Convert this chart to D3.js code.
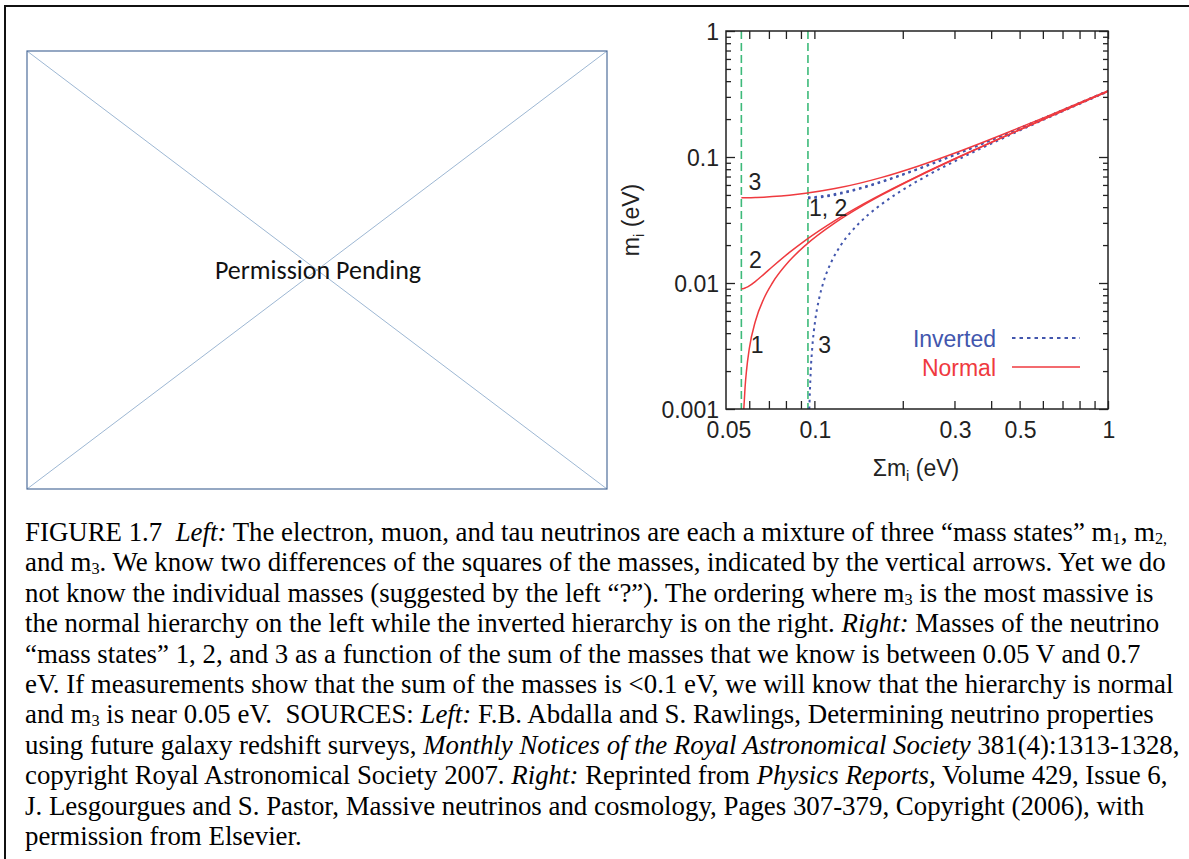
<!DOCTYPE html>
<html>
<head>
<meta charset="utf-8">
<script src="https://cdn.jsdelivr.net/npm/d3@7"></script>
<style>
  html, body { margin: 0; padding: 0; background: #fff; }
  svg { display: block; }
  text { white-space: pre; }
</style>
</head>
<body>
<svg id="fig" width="1189" height="859"></svg>
<script>
// ---------------- data ----------------
// Normal hierarchy: sum of masses and the three mass states (eV)
const sumNormal = [0.0564, 0.0575, 0.05808, 0.0587, 0.0600, 0.0630, 0.06724, 0.07193, 0.08224, 0.09341, 0.11745, 0.14305, 0.16972, 0.22513, 0.31108, 0.45759, 0.60575, 0.90386, 1.00248];
const m1Normal  = [null,   0.001,  0.0015,  0.002,  0.003,  0.005,  0.0075,  0.010,   0.015,   0.020,   0.030,   0.040,   0.050,   0.070,   0.100,   0.150,   0.200,   0.300,   0.333];
const m2Normal  = [0.0090, 0.009055, 0.009124, 0.00922, 0.009487, 0.0103, 0.011715, 0.013454, 0.017493, 0.021932, 0.031321, 0.0410, 0.050804, 0.070576, 0.100404, 0.15027, 0.200202, 0.300135, 0.33312];
const m3Normal  = [0.04743, 0.04744, 0.047458, 0.04748, 0.04753, 0.0477, 0.04802, 0.048477, 0.04975, 0.051478, 0.056125, 0.062048, 0.06892, 0.084558, 0.11068, 0.157321, 0.205548, 0.303727, 0.336361];

// Inverted hierarchy
const sumInverted = [0.09508, 0.096097, 0.09716, 0.098265, 0.1006, 0.10375, 0.10716, 0.1147, 0.12315, 0.14243, 0.16426, 0.18798, 0.23923, 0.32145, 0.46471, 0.61115, 0.90749, 0.99979];
const m1Inverted  = [0.04712, 0.047128, 0.04716, 0.047213, 0.047381, 0.04771, 0.048166, 0.049447, 0.051186, 0.055857, 0.061806, 0.068702, 0.08438, 0.110544, 0.157226, 0.205475, 0.303678, 0.334337];
const m2Inverted  = [0.04796, 0.047969, 0.048, 0.048052, 0.048218, 0.048541, 0.04899, 0.05025, 0.051962, 0.056569, 0.06245, 0.069282, 0.084853, 0.110905, 0.15748, 0.20567, 0.303809, 0.334456];
const m3Inverted  = [null,    0.001,    0.002,  0.003,    0.005,    0.0075,   0.010,   0.015,   0.020,    0.030,    0.040,   0.050,    0.070,    0.100,    0.150,    0.200,    0.300,    0.331];

// Vertical (green dashed) markers: minimum sums for each hierarchy
const minimumSums = [0.0564, 0.09508];

// Axis ticks
const xTicks = [0.06, 0.07, 0.08, 0.09, 0.1, 0.2, 0.3, 0.4, 0.5, 0.6, 0.7, 0.8, 0.9, 1];
const xTickLabels = [0.05, 0.1, 0.3, 0.5, 1];
const yMajorTicks = [0.001, 0.01, 0.1, 1];
const yMinorTicks = [0.002,0.003,0.004,0.005,0.006,0.007,0.008,0.009,
                     0.02,0.03,0.04,0.05,0.06,0.07,0.08,0.09,
                     0.2,0.3,0.4,0.5,0.6,0.7,0.8,0.9];
const yTickLabels = ["0.001", "0.01", "0.1", "1"];

// Curve annotations [label, x (sum), y (mass)]
const curveLabels = [
  ["3",    0.0597, 0.0630],
  ["2",    0.0599, 0.0152],
  ["1",    0.0607, 0.00322],
  ["1, 2", 0.0958, 0.0394],
  ["3",    0.1030, 0.00322]
];

// Legend entries
const legendNames = ["Inverted", "Normal"];

// Caption lines: segments [text, style]  n=normal, i=italic, s=subscript
const captionLines = [
  [["FIGURE 1.7  ","n"],["Left:","i"],[" The electron, muon, and tau neutrinos are each a mixture of three \u201cmass states\u201d m","n"],["1","s"],[", m","n"],["2,","s"]],
  [["and m","n"],["3","s"],[". We know two differences of the squares of the masses, indicated by the vertical arrows. Yet we do","n"]],
  [["not know the individual masses (suggested by the left \u201c?\u201d). The ordering where m","n"],["3","s"],[" is the most massive is","n"]],
  [["the normal hierarchy on the left while the inverted hierarchy is on the right. ","n"],["Right:","i"],[" Masses of the neutrino","n"]],
  [["\u201cmass states\u201d 1, 2, and 3 as a function of the sum of the masses that we know is between 0.05 V and 0.7","n"]],
  [["eV. If measurements show that the sum of the masses is <0.1 eV, we will know that the hierarchy is normal","n"]],
  [["and m","n"],["3","s"],[" is near 0.05 eV.  SOURCES: ","n"],["Left:","i"],[" F.B. Abdalla and S. Rawlings, Determining neutrino properties","n"]],
  [["using future galaxy redshift surveys, ","n"],["Monthly Notices of the Royal Astronomical Society","i"],[" 381(4):1313-1328,","n"]],
  [["copyright Royal Astronomical Society 2007. ","n"],["Right:","i"],[" Reprinted from ","n"],["Physics Reports,","i"],[" Volume 429, Issue 6,","n"]],
  [["J. Lesgourgues and S. Pastor, Massive neutrinos and cosmology, Pages 307-379, Copyright (2006), with","n"]],
  [["permission from Elsevier.","n"]]
];

// ---------------- drawing ----------------
const svg = d3.select("#fig");
const SANS = "'Liberation Sans', Arial, Helvetica, sans-serif";
const SERIF = "'Liberation Serif', 'Times New Roman', serif";
const RED = "#ef3a3f", BLUE = "#4256ad", GREEN = "#3dba7a";
const FS = 23;

// outer frame
svg.append("rect").attr("x", 5).attr("y", 6).attr("width", 1200).attr("height", 900)
  .attr("fill", "none").attr("stroke", "#111").attr("stroke-width", 2);

// left placeholder box
const bx = 27, by = 51, bw = 580, bh = 438;
svg.append("line").attr("x1", bx).attr("y1", by).attr("x2", bx + bw).attr("y2", by + bh)
  .attr("stroke", "#9db7d3").attr("stroke-width", 1);
svg.append("line").attr("x1", bx + bw).attr("y1", by).attr("x2", bx).attr("y2", by + bh)
  .attr("stroke", "#9db7d3").attr("stroke-width", 1);
svg.append("rect").attr("x", bx).attr("y", by).attr("width", bw).attr("height", bh)
  .attr("fill", "none").attr("stroke", "#4f6e9c").attr("stroke-width", 1.2);
svg.append("text").attr("x", 318).attr("y", 279).attr("text-anchor", "middle")
  .attr("font-family", "Carlito, 'Open Sans', sans-serif").attr("font-size", 26).attr("fill", "#111")
  .text("Permission Pending");

// chart
const L = 726, R = 1108, T = 31, B = 409;
const x = d3.scaleLog().domain([0.05, 1]).range([L, R]);
const y = d3.scaleLog().domain([0.001, 1]).range([B, T]);

const g = svg.append("g");

// green dashed markers
g.selectAll("line.mark").data(minimumSums).join("line")
  .attr("x1", d => x(d)).attr("x2", d => x(d)).attr("y1", T).attr("y2", B)
  .attr("stroke", GREEN).attr("stroke-width", 1.6).attr("stroke-dasharray", "8,4");

// curves
svg.append("clipPath").attr("id", "plotclip").append("rect")
  .attr("x", L).attr("y", T).attr("width", R - L).attr("height", B - T);
const curves = g.append("g").attr("clip-path", "url(#plotclip)");

function series(sums, ms) { return sums.map((s, i) => [s, ms[i]]); }
const line = d3.line().defined(d => d[1] != null).x(d => x(d[0])).y(d => y(d[1])).curve(d3.curveMonotoneX);

[m1Inverted, m2Inverted, m3Inverted].forEach(ms => {
  curves.append("path").datum(series(sumInverted, ms)).attr("d", line)
    .attr("fill", "none").attr("stroke", BLUE).attr("stroke-width", 2).attr("stroke-dasharray", "2.5,4");
});
[m1Normal, m2Normal, m3Normal].forEach(ms => {
  curves.append("path").datum(series(sumNormal, ms)).attr("d", line)
    .attr("fill", "none").attr("stroke", RED).attr("stroke-width", 1.5);
});

// axes (inward ticks)
g.append("g").attr("transform", `translate(0,${B})`)
  .call(d3.axisBottom(x).tickValues(xTicks).tickSize(-8).tickFormat(() => ""));
g.append("g").attr("transform", `translate(0,${T})`)
  .call(d3.axisTop(x).tickValues(xTicks).tickSize(-8).tickFormat(() => ""));
g.append("g").attr("transform", `translate(${L},0)`)
  .call(d3.axisLeft(y).tickValues(yMajorTicks).tickSize(-9).tickFormat(() => ""));
g.append("g").attr("transform", `translate(${L},0)`)
  .call(d3.axisLeft(y).tickValues(yMinorTicks).tickSize(-5).tickFormat(() => ""));
g.append("g").attr("transform", `translate(${R},0)`)
  .call(d3.axisRight(y).tickValues(yMajorTicks).tickSize(-9).tickFormat(() => ""));
g.append("g").attr("transform", `translate(${R},0)`)
  .call(d3.axisRight(y).tickValues(yMinorTicks).tickSize(-5).tickFormat(() => ""));
g.selectAll(".domain").remove();
g.selectAll(".tick line").attr("stroke", "#222").attr("stroke-width", 1.3);

// frame
g.append("rect").attr("x", L).attr("y", T).attr("width", R - L).attr("height", B - T)
  .attr("fill", "none").attr("stroke", "#222").attr("stroke-width", 1.5);

// tick labels
g.selectAll("text.xl").data(xTickLabels).join("text")
  .attr("x", d => x(d) + (d === 0.05 ? 3 : 1)).attr("y", 438)
  .attr("text-anchor", "middle").attr("font-family", SANS).attr("font-size", FS).attr("fill", "#222")
  .text(d => String(d));
g.selectAll("text.yl").data(yMajorTicks).join("text")
  .attr("x", 719).attr("y", d => y(d) + 8.5)
  .attr("text-anchor", "end").attr("font-family", SANS).attr("font-size", FS).attr("fill", "#222")
  .text((d, i) => yTickLabels[i]);

// axis titles
const xt = g.append("text").attr("x", 916).attr("y", 476).attr("text-anchor", "middle")
  .attr("font-family", SANS).attr("font-size", FS).attr("fill", "#222");
xt.append("tspan").text("\u03a3m");
xt.append("tspan").attr("font-size", 15).attr("dy", 5).text("i");
xt.append("tspan").attr("dy", -5).text(" (eV)");

const yt = g.append("text").attr("transform", "translate(639,220) rotate(-90)").attr("text-anchor", "middle")
  .attr("font-family", SANS).attr("font-size", FS).attr("fill", "#222");
yt.append("tspan").text("m");
yt.append("tspan").attr("font-size", 15).attr("dy", 5).text("i");
yt.append("tspan").attr("dy", -5).text(" (eV)");

// curve labels
g.selectAll("text.cl").data(curveLabels).join("text")
  .attr("x", d => x(d[1])).attr("y", d => y(d[2]))
  .attr("font-family", SANS).attr("font-size", FS).attr("fill", "#222")
  .attr("text-anchor", "start").attr("dominant-baseline", "central")
  .text(d => d[0]);

// legend
const legY = [338, 367];
const legColors = [BLUE, RED];
legendNames.forEach((name, i) => {
  g.append("text").attr("x", 996).attr("y", legY[i] + 8.5).attr("text-anchor", "end")
    .attr("font-family", SANS).attr("font-size", FS).attr("fill", legColors[i]).text(name);
  g.append("line").attr("x1", 1012).attr("x2", 1080).attr("y1", legY[i]).attr("y2", legY[i])
    .attr("stroke", legColors[i]).attr("stroke-width", i === 0 ? 2 : 1.5)
    .attr("stroke-dasharray", i === 0 ? "3.5,4" : null);
});

// caption
const cap = svg.append("g").attr("font-family", SERIF).attr("font-size", 26.4).attr("fill", "#000");
const capTexts = [];
captionLines.forEach((segs, li) => {
  const t = cap.append("text").attr("x", 0).attr("y", 541 + li * 30.4);
  segs.forEach(([txt, st]) => {
    const ts = t.append("tspan").text(txt);
    if (st === "i") ts.attr("font-style", "italic");
    if (st === "s") ts.attr("font-size", 16).attr("baseline-shift", "-3");
  });
  capTexts.push(t);
});
const w1 = capTexts[0].node().getComputedTextLength();
const sx = w1 > 0 ? Math.min(1.05, Math.max(0.95, 1142 / w1)) : 1;
cap.attr("transform", `translate(25,0) scale(${sx},1)`);
</script>
</body>
</html>
